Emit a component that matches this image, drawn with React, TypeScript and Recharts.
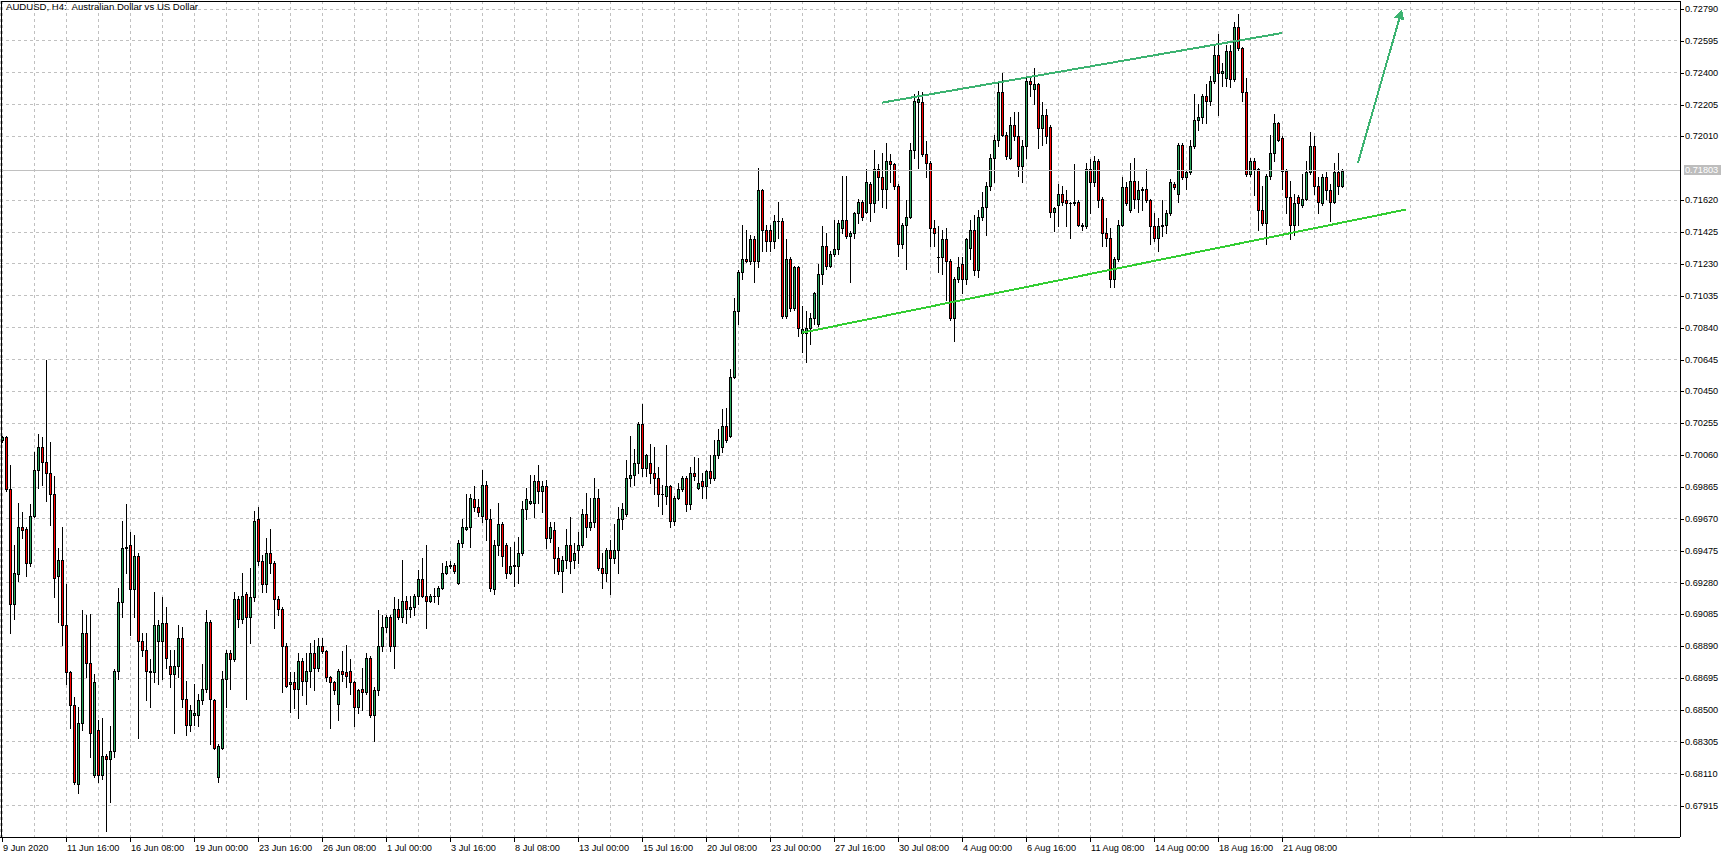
import React from 'react';
import { ComposedChart, Bar, XAxis, YAxis, CartesianGrid, ReferenceLine } from 'recharts';

const W = 1733;
const H = 858;
const PLOT_RIGHT = 1680;
const PLOT_BOTTOM = 837;
const SLOTS = 420; // 4px per bar, empty space right of the last bar

const FONT = '"Liberation Sans", Arial, sans-serif';
const BULL = '#26a65b';
const BEAR = '#ff0000';
const GRID = '#c0c0c0';

// AUDUSD H4 bars from 9 Jun 2020 00:00, one row = 16 bars (one time label step)
const openPrices = [
  0.7015, 0.7017, 0.6985, 0.6915, 0.6933, 0.6962, 0.6961, 0.6940, 0.6969, 0.6997, 0.7011, 0.7002, 0.6995, 0.6982, 0.6932, 0.6942,
  0.6902, 0.6873, 0.6853, 0.6805, 0.6842, 0.6897, 0.6879, 0.6810, 0.6838, 0.6810, 0.6822, 0.6820, 0.6825, 0.6874, 0.6916, 0.6949,
  0.6951, 0.6924, 0.6944, 0.6892, 0.6887, 0.6874, 0.6873, 0.6892, 0.6892, 0.6903, 0.6877, 0.6872, 0.6877, 0.6894, 0.6857, 0.6841,
  0.6847, 0.6847, 0.6856, 0.6863, 0.6904, 0.6856, 0.6809, 0.6827, 0.6869, 0.6885, 0.6881, 0.6918, 0.6906, 0.6921, 0.6907, 0.6919,
  0.6967, 0.6941, 0.6927, 0.6946, 0.6940, 0.6918, 0.6912, 0.6889, 0.6866, 0.6867, 0.6863, 0.6880, 0.6868, 0.6874, 0.6885, 0.6876,
  0.6889, 0.6886, 0.6870, 0.6867, 0.6854, 0.6874, 0.6873, 0.6874, 0.6867, 0.6852, 0.6863, 0.6861, 0.6882, 0.6847, 0.6862, 0.6889,
  0.6901, 0.6907, 0.6889, 0.6912, 0.6907, 0.6917, 0.6912, 0.6913, 0.6920, 0.6930, 0.6920, 0.6917, 0.6920, 0.6920, 0.6925, 0.6934,
  0.6938, 0.6939, 0.6928, 0.6952, 0.6961, 0.6962, 0.6979, 0.6974, 0.6969, 0.6988, 0.6967, 0.6924, 0.6951, 0.6964, 0.6951, 0.6934,
  0.6938, 0.6938, 0.6946, 0.6973, 0.6977, 0.6977, 0.6990, 0.6984, 0.6987, 0.6955, 0.6960, 0.6943, 0.6935, 0.6942, 0.6951, 0.6942,
  0.6948, 0.6951, 0.6970, 0.6962, 0.6965, 0.6980, 0.6937, 0.6934, 0.6948, 0.6943, 0.6948, 0.6967, 0.6970, 0.6992, 0.6994, 0.7001,
  0.7025, 0.6998, 0.7001, 0.6995, 0.6992, 0.6982, 0.6981, 0.6987, 0.6966, 0.6980, 0.6985, 0.6992, 0.6976, 0.6995, 0.6986, 0.6990,
  0.6987, 0.6996, 0.6992, 0.7006, 0.7011, 0.7024, 0.7018, 0.7054, 0.7094, 0.7118, 0.7126, 0.7125, 0.7138, 0.7125, 0.7168, 0.7144,
  0.7144, 0.7137, 0.7149, 0.7149, 0.7091, 0.7126, 0.7096, 0.7121, 0.7081, 0.7081, 0.7084, 0.7090, 0.7086, 0.7117, 0.7134, 0.7122,
  0.7129, 0.7132, 0.7145, 0.7150, 0.7140, 0.7142, 0.7154, 0.7161, 0.7155, 0.7172, 0.7160, 0.7181, 0.7176, 0.7169, 0.7186, 0.7184,
  0.7171, 0.7135, 0.7147, 0.7152, 0.7193, 0.7222, 0.7222, 0.7190, 0.7185, 0.7145, 0.7127, 0.7127, 0.7138, 0.7125, 0.7090, 0.7114,
  0.7123, 0.7114, 0.7133, 0.7144, 0.7119, 0.7152, 0.7158, 0.7171, 0.7188, 0.7199, 0.7228, 0.7202, 0.7188, 0.7208, 0.7201, 0.7183,
  0.7195, 0.7235, 0.7230, 0.7233, 0.7206, 0.7214, 0.7207, 0.7155, 0.7159, 0.7166, 0.7162, 0.7160, 0.7160, 0.7161, 0.7147, 0.7146,
  0.7181, 0.7173, 0.7186, 0.7163, 0.7142, 0.7139, 0.7114, 0.7126, 0.7147, 0.7170, 0.7156, 0.7174, 0.7163, 0.7168, 0.7169, 0.7162,
  0.7146, 0.7139, 0.7146, 0.7147, 0.7154, 0.7172, 0.7166, 0.7196, 0.7176, 0.7179, 0.7195, 0.7211, 0.7213, 0.7226, 0.7223, 0.7235,
  0.7251, 0.7240, 0.7237, 0.7253, 0.7236, 0.7268, 0.7255, 0.7228, 0.7178, 0.7186, 0.7181, 0.7156, 0.7148, 0.7177, 0.7191, 0.7209,
  0.7200, 0.7180, 0.7164, 0.7147, 0.7164, 0.7159, 0.7163, 0.7179, 0.7195, 0.7171, 0.7160, 0.7176, 0.7168, 0.7161, 0.7179, 0.7171,
];

const highPrices = [
  0.7018, 0.7018, 0.7000, 0.6951, 0.6977, 0.6971, 0.6962, 0.6976, 0.7008, 0.7019, 0.7017, 0.7064, 0.7014, 0.6993, 0.6949, 0.6962,
  0.6927, 0.6874, 0.6858, 0.6852, 0.6911, 0.6908, 0.6909, 0.6872, 0.6844, 0.6845, 0.6823, 0.6840, 0.6875, 0.6925, 0.6966, 0.6976,
  0.6959, 0.6957, 0.6946, 0.6897, 0.6897, 0.6881, 0.6922, 0.6905, 0.6919, 0.6913, 0.6887, 0.6887, 0.6902, 0.6901, 0.6868, 0.6853,
  0.6866, 0.6860, 0.6878, 0.6911, 0.6905, 0.6857, 0.6829, 0.6874, 0.6887, 0.6887, 0.6922, 0.6920, 0.6934, 0.6922, 0.6937, 0.6972,
  0.6974, 0.6945, 0.6955, 0.6961, 0.6941, 0.6920, 0.6913, 0.6891, 0.6873, 0.6873, 0.6885, 0.6882, 0.6885, 0.6891, 0.6893, 0.6894,
  0.6894, 0.6887, 0.6871, 0.6868, 0.6875, 0.6886, 0.6890, 0.6881, 0.6868, 0.6863, 0.6876, 0.6885, 0.6883, 0.6864, 0.6911, 0.6908,
  0.6908, 0.6908, 0.6919, 0.6918, 0.6942, 0.6920, 0.6920, 0.6921, 0.6936, 0.6943, 0.6951, 0.6921, 0.6925, 0.6926, 0.6940, 0.6941,
  0.6941, 0.6940, 0.6954, 0.6967, 0.6982, 0.6982, 0.6987, 0.6979, 0.6997, 0.6990, 0.6973, 0.6954, 0.6977, 0.6965, 0.6952, 0.6950,
  0.6953, 0.6956, 0.6978, 0.6986, 0.6994, 0.6994, 0.7000, 0.6990, 0.6991, 0.6965, 0.6965, 0.6950, 0.6944, 0.6961, 0.6968, 0.6952,
  0.6959, 0.6973, 0.6983, 0.6980, 0.6992, 0.6985, 0.6946, 0.6949, 0.6954, 0.6964, 0.6974, 0.6977, 0.7003, 0.7018, 0.7010, 0.7026,
  0.7037, 0.7007, 0.7013, 0.7011, 0.6999, 0.6988, 0.7012, 0.6988, 0.6981, 0.6989, 0.6993, 0.6993, 0.6999, 0.7005, 0.7004, 0.6995,
  0.6997, 0.7006, 0.7015, 0.7022, 0.7034, 0.7035, 0.7059, 0.7102, 0.7119, 0.7147, 0.7144, 0.7141, 0.7140, 0.7182, 0.7169, 0.7147,
  0.7147, 0.7153, 0.7161, 0.7151, 0.7138, 0.7127, 0.7122, 0.7122, 0.7097, 0.7094, 0.7093, 0.7106, 0.7123, 0.7146, 0.7142, 0.7131,
  0.7150, 0.7150, 0.7177, 0.7177, 0.7143, 0.7155, 0.7163, 0.7162, 0.7181, 0.7173, 0.7193, 0.7184, 0.7191, 0.7197, 0.7190, 0.7185,
  0.7172, 0.7148, 0.7162, 0.7197, 0.7227, 0.7229, 0.7228, 0.7198, 0.7186, 0.7150, 0.7146, 0.7144, 0.7145, 0.7126, 0.7115, 0.7127,
  0.7127, 0.7139, 0.7150, 0.7153, 0.7156, 0.7167, 0.7173, 0.7190, 0.7202, 0.7234, 0.7240, 0.7204, 0.7213, 0.7216, 0.7216, 0.7199,
  0.7238, 0.7238, 0.7243, 0.7234, 0.7222, 0.7218, 0.7208, 0.7158, 0.7172, 0.7171, 0.7168, 0.7161, 0.7184, 0.7162, 0.7148, 0.7185,
  0.7187, 0.7189, 0.7187, 0.7164, 0.7151, 0.7145, 0.7127, 0.7150, 0.7176, 0.7173, 0.7185, 0.7188, 0.7174, 0.7170, 0.7181, 0.7163,
  0.7154, 0.7151, 0.7162, 0.7156, 0.7175, 0.7173, 0.7197, 0.7197, 0.7180, 0.7199, 0.7227, 0.7221, 0.7227, 0.7233, 0.7238, 0.7257,
  0.7264, 0.7246, 0.7257, 0.7257, 0.7271, 0.7276, 0.7256, 0.7237, 0.7188, 0.7188, 0.7182, 0.7171, 0.7178, 0.7202, 0.7215, 0.7210,
  0.7201, 0.7181, 0.7174, 0.7166, 0.7165, 0.7178, 0.7186, 0.7204, 0.7201, 0.7176, 0.7178, 0.7179, 0.7172, 0.7185, 0.7191, 0.7181,
];

const lowPrices = [
  0.7014, 0.6984, 0.6897, 0.6906, 0.6929, 0.6955, 0.6932, 0.6938, 0.6968, 0.6986, 0.6988, 0.6978, 0.6963, 0.6919, 0.6904, 0.6890,
  0.6866, 0.6839, 0.6805, 0.6799, 0.6838, 0.6870, 0.6821, 0.6809, 0.6806, 0.6808, 0.6776, 0.6794, 0.6821, 0.6869, 0.6907, 0.6934,
  0.6896, 0.6907, 0.6833, 0.6883, 0.6856, 0.6852, 0.6867, 0.6866, 0.6869, 0.6876, 0.6864, 0.6836, 0.6870, 0.6852, 0.6835, 0.6837,
  0.6841, 0.6840, 0.6854, 0.6861, 0.6829, 0.6826, 0.6806, 0.6826, 0.6852, 0.6863, 0.6880, 0.6901, 0.6903, 0.6857, 0.6891, 0.6917,
  0.6939, 0.6922, 0.6922, 0.6934, 0.6900, 0.6908, 0.6861, 0.6864, 0.6849, 0.6851, 0.6845, 0.6859, 0.6854, 0.6864, 0.6862, 0.6874,
  0.6885, 0.6868, 0.6839, 0.6860, 0.6844, 0.6868, 0.6864, 0.6860, 0.6840, 0.6848, 0.6850, 0.6860, 0.6846, 0.6831, 0.6859, 0.6886,
  0.6898, 0.6886, 0.6876, 0.6906, 0.6904, 0.6903, 0.6907, 0.6908, 0.6915, 0.6919, 0.6900, 0.6916, 0.6916, 0.6915, 0.6924, 0.6933,
  0.6937, 0.6934, 0.6927, 0.6950, 0.6960, 0.6950, 0.6972, 0.6969, 0.6965, 0.6954, 0.6923, 0.6921, 0.6945, 0.6938, 0.6931, 0.6933,
  0.6926, 0.6928, 0.6945, 0.6967, 0.6976, 0.6968, 0.6977, 0.6971, 0.6949, 0.6953, 0.6934, 0.6933, 0.6922, 0.6937, 0.6934, 0.6937,
  0.6940, 0.6950, 0.6956, 0.6960, 0.6962, 0.6936, 0.6925, 0.6929, 0.6921, 0.6940, 0.6934, 0.6961, 0.6969, 0.6987, 0.6988, 0.6995,
  0.6993, 0.6993, 0.6989, 0.6982, 0.6975, 0.6970, 0.6976, 0.6962, 0.6963, 0.6979, 0.6984, 0.6972, 0.6973, 0.6991, 0.6985, 0.6980,
  0.6980, 0.6989, 0.6991, 0.7004, 0.7008, 0.7014, 0.7017, 0.7053, 0.7086, 0.7114, 0.7124, 0.7123, 0.7112, 0.7121, 0.7131, 0.7131,
  0.7131, 0.7133, 0.7139, 0.7090, 0.7090, 0.7094, 0.7095, 0.7079, 0.7069, 0.7063, 0.7074, 0.7086, 0.7085, 0.7111, 0.7120, 0.7121,
  0.7128, 0.7129, 0.7142, 0.7139, 0.7112, 0.7139, 0.7148, 0.7150, 0.7154, 0.7149, 0.7155, 0.7162, 0.7158, 0.7157, 0.7173, 0.7169,
  0.7128, 0.7133, 0.7120, 0.7151, 0.7188, 0.7182, 0.7189, 0.7176, 0.7134, 0.7134, 0.7118, 0.7117, 0.7101, 0.7089, 0.7076, 0.7112,
  0.7105, 0.7111, 0.7126, 0.7116, 0.7115, 0.7150, 0.7141, 0.7168, 0.7173, 0.7195, 0.7201, 0.7187, 0.7187, 0.7199, 0.7177, 0.7173,
  0.7188, 0.7226, 0.7221, 0.7194, 0.7196, 0.7197, 0.7152, 0.7143, 0.7146, 0.7159, 0.7146, 0.7139, 0.7159, 0.7146, 0.7144, 0.7145,
  0.7154, 0.7171, 0.7158, 0.7134, 0.7134, 0.7109, 0.7109, 0.7125, 0.7146, 0.7159, 0.7155, 0.7157, 0.7155, 0.7156, 0.7161, 0.7135,
  0.7137, 0.7131, 0.7140, 0.7142, 0.7153, 0.7169, 0.7161, 0.7175, 0.7169, 0.7178, 0.7194, 0.7205, 0.7209, 0.7209, 0.7220, 0.7234,
  0.7214, 0.7232, 0.7232, 0.7231, 0.7235, 0.7254, 0.7223, 0.7177, 0.7177, 0.7165, 0.7144, 0.7147, 0.7135, 0.7175, 0.7186, 0.7198,
  0.7169, 0.7154, 0.7138, 0.7141, 0.7147, 0.7158, 0.7162, 0.7178, 0.7166, 0.7154, 0.7159, 0.7163, 0.7149, 0.7160, 0.7166, 0.7170,
];

const closePrices = [
  0.7017, 0.6985, 0.6915, 0.6934, 0.6962, 0.6960, 0.6940, 0.6969, 0.6997, 0.7011, 0.7002, 0.6995, 0.6982, 0.6931, 0.6942, 0.6902,
  0.6873, 0.6853, 0.6806, 0.6842, 0.6897, 0.6879, 0.6836, 0.6867, 0.6810, 0.6822, 0.6820, 0.6825, 0.6874, 0.6916, 0.6949, 0.6950,
  0.6924, 0.6944, 0.6892, 0.6887, 0.6874, 0.6873, 0.6902, 0.6902, 0.6903, 0.6882, 0.6872, 0.6877, 0.6894, 0.6857, 0.6841, 0.6850,
  0.6848, 0.6856, 0.6863, 0.6904, 0.6857, 0.6827, 0.6828, 0.6869, 0.6885, 0.6881, 0.6918, 0.6906, 0.6920, 0.6907, 0.6919, 0.6966,
  0.6941, 0.6927, 0.6946, 0.6940, 0.6918, 0.6912, 0.6889, 0.6865, 0.6867, 0.6863, 0.6880, 0.6868, 0.6874, 0.6885, 0.6876, 0.6889,
  0.6886, 0.6870, 0.6867, 0.6862, 0.6874, 0.6872, 0.6871, 0.6867, 0.6852, 0.6862, 0.6861, 0.6882, 0.6847, 0.6862, 0.6889, 0.6901,
  0.6907, 0.6889, 0.6912, 0.6907, 0.6917, 0.6912, 0.6913, 0.6920, 0.6930, 0.6920, 0.6917, 0.6920, 0.6920, 0.6925, 0.6934, 0.6938,
  0.6939, 0.6935, 0.6952, 0.6962, 0.6962, 0.6980, 0.6974, 0.6971, 0.6988, 0.6967, 0.6925, 0.6951, 0.6964, 0.6944, 0.6934, 0.6938,
  0.6939, 0.6946, 0.6973, 0.6979, 0.6978, 0.6990, 0.6984, 0.6987, 0.6955, 0.6962, 0.6943, 0.6935, 0.6942, 0.6951, 0.6941, 0.6946,
  0.6951, 0.6970, 0.6962, 0.6965, 0.6980, 0.6937, 0.6934, 0.6948, 0.6943, 0.6948, 0.6967, 0.6973, 0.6992, 0.6994, 0.7001, 0.7025,
  0.6998, 0.7006, 0.6995, 0.6992, 0.6982, 0.6982, 0.6987, 0.6966, 0.6980, 0.6985, 0.6992, 0.6976, 0.6995, 0.6993, 0.6989, 0.6987,
  0.6996, 0.6992, 0.7006, 0.7015, 0.7024, 0.7015, 0.7054, 0.7094, 0.7118, 0.7126, 0.7125, 0.7138, 0.7125, 0.7168, 0.7144, 0.7137,
  0.7137, 0.7149, 0.7149, 0.7091, 0.7126, 0.7096, 0.7121, 0.7084, 0.7083, 0.7084, 0.7090, 0.7105, 0.7117, 0.7134, 0.7122, 0.7129,
  0.7132, 0.7148, 0.7150, 0.7140, 0.7142, 0.7154, 0.7161, 0.7152, 0.7173, 0.7160, 0.7181, 0.7176, 0.7169, 0.7186, 0.7184, 0.7171,
  0.7135, 0.7147, 0.7152, 0.7193, 0.7223, 0.7224, 0.7190, 0.7185, 0.7145, 0.7142, 0.7127, 0.7138, 0.7125, 0.7090, 0.7114, 0.7121,
  0.7114, 0.7138, 0.7144, 0.7119, 0.7152, 0.7158, 0.7171, 0.7188, 0.7199, 0.7228, 0.7202, 0.7189, 0.7208, 0.7201, 0.7183, 0.7195,
  0.7235, 0.7233, 0.7233, 0.7206, 0.7214, 0.7201, 0.7155, 0.7157, 0.7166, 0.7161, 0.7160, 0.7160, 0.7161, 0.7147, 0.7146, 0.7181,
  0.7173, 0.7186, 0.7162, 0.7142, 0.7139, 0.7114, 0.7126, 0.7147, 0.7170, 0.7160, 0.7174, 0.7163, 0.7168, 0.7169, 0.7162, 0.7146,
  0.7139, 0.7146, 0.7147, 0.7154, 0.7173, 0.7170, 0.7196, 0.7176, 0.7179, 0.7195, 0.7211, 0.7213, 0.7226, 0.7223, 0.7235, 0.7251,
  0.7240, 0.7241, 0.7253, 0.7236, 0.7268, 0.7255, 0.7228, 0.7178, 0.7186, 0.7181, 0.7156, 0.7148, 0.7177, 0.7191, 0.7209, 0.7199,
  0.7180, 0.7164, 0.7147, 0.7160, 0.7160, 0.7163, 0.7179, 0.7195, 0.7171, 0.7161, 0.7176, 0.7168, 0.7161, 0.7179, 0.7171, 0.7180,
];

// one label every 16 bars
const timeLabels = [
  '9 Jun 2020', '11 Jun 16:00', '16 Jun 08:00', '19 Jun 00:00', '23 Jun 16:00', '26 Jun 08:00', '1 Jul 00:00',
  '3 Jul 16:00', '8 Jul 08:00', '13 Jul 00:00', '15 Jul 16:00', '20 Jul 08:00', '23 Jul 00:00', '27 Jul 16:00',
  '30 Jul 08:00', '4 Aug 00:00', '6 Aug 16:00', '11 Aug 08:00', '14 Aug 00:00', '18 Aug 16:00', '21 Aug 08:00',
];

// 0.71815 is hidden by the last price badge
const priceTicks = [
  0.7279, 0.72595, 0.724, 0.72205, 0.7201, 0.7162, 0.71425, 0.7123, 0.71035, 0.7084, 0.70645, 0.7045, 0.70255,
  0.7006, 0.69865, 0.6967, 0.69475, 0.6928, 0.69085, 0.6889, 0.68695, 0.685, 0.68305, 0.6811, 0.67915,
];

const lastPrice = 0.71803;

const upperChannel = [{ x: 220, y: 0.72217 }, { x: 320, y: 0.72643 }];
const lowerChannel = [{ x: 200, y: 0.70809 }, { x: 351, y: 0.71563 }];
const targetArrow = [{ x: 339, y: 0.71849 }, { x: 350, y: 0.72788 }];

const Y_DOMAIN: [number, number] = [0.677234, 0.72839];

const rows = Array.from({ length: SLOTS }, (_, i) => {
  if (i >= closePrices.length) return { idx: i };
  const o = openPrices[i];
  const c = closePrices[i];
  return {
    idx: i,
    open: o,
    close: c,
    high: Math.max(highPrices[i], o, c),
    low: Math.min(lowPrices[i], o, c),
  };
});

const gridTicks = Array.from({ length: SLOTS / 8 }, (_, k) => k * 8);

const Candle = (props: any) => {
  const { x, y, width, height, payload } = props;
  if (!payload || payload.high == null) return null;
  const { open, close, high, low } = payload;
  const span = high - low;
  const k = span > 0 ? height / span : 0;
  const cx = Math.floor(x + width / 2);
  const yOf = (v: number) => y + (high - v) * k;
  const top = Math.round(yOf(Math.max(open, close)));
  const bot = Math.round(yOf(Math.min(open, close)));
  const yHi = Math.round(y);
  const yLo = Math.round(y + height);
  const up = close >= open;
  return (
    <g>
      <rect x={cx} y={yHi} width={1} height={Math.max(1, yLo - yHi + 1)} fill="#000" />
      <rect x={cx - 1} y={top} width={3} height={Math.max(1, bot - top + 1)} fill="#000" />
      {bot - top >= 2 && (
        <rect x={cx} y={top + 1} width={1} height={bot - top - 1} fill={up ? BULL : BEAR} />
      )}
    </g>
  );
};

const TimeTick = (p: any) => {
  const i = Number(p.payload?.value);
  if (i % 16 !== 0) return null;
  const label = timeLabels[i / 16];
  if (!label) return null;
  const x = Math.round(p.x);
  return (
    <g>
      <line x1={x} x2={x} y1={PLOT_BOTTOM} y2={PLOT_BOTTOM + 5} stroke="#000" />
      <text x={x + 1} y={850.5} fontSize={9.2} fontFamily={FONT} fill="#000">
        {label}
      </text>
    </g>
  );
};

const PriceTick = (p: any) => {
  const y = Math.round(p.y);
  return (
    <g>
      <line x1={PLOT_RIGHT} x2={PLOT_RIGHT + 4} y1={y} y2={y} stroke="#000" />
      <text x={PLOT_RIGHT + 5} y={y} dy="0.36em" fontSize={9.2} fontFamily={FONT} fill="#000">
        {Number(p.payload.value).toFixed(5)}
      </text>
    </g>
  );
};

const PriceBadge = (lp: any) => {
  const vb = lp?.viewBox ?? lp ?? {};
  const y = Math.round(vb.y ?? 0);
  return (
    <g>
      <rect x={PLOT_RIGHT + 4} y={y - 5} width={37} height={10} fill="#bdbdbd" />
      <text x={PLOT_RIGHT + 5} y={y} dy="0.36em" fontSize={9.2} fontFamily={FONT} fill="#fff">
        {lastPrice.toFixed(5)}
      </text>
    </g>
  );
};

const ArrowLine = (p: any) => {
  const { x1, y1, x2, y2 } = p;
  const ang = Math.atan2(y2 - y1, x2 - x1);
  const len = 10;
  const half = 5;
  const bx = x2 - len * Math.cos(ang);
  const by = y2 - len * Math.sin(ang);
  const nx = -Math.sin(ang);
  const ny = Math.cos(ang);
  const pts = `${x2},${y2} ${bx + nx * half},${by + ny * half} ${bx - nx * half},${by - ny * half}`;
  return (
    <g>
      <line x1={x1} y1={y1} x2={bx} y2={by} stroke="#3cb371" strokeWidth={2} />
      <polygon points={pts} fill="#3cb371" />
    </g>
  );
};

export default function App() {
  return (
    <div style={{ position: 'absolute', left: 0, top: 0, width: W, height: H, background: '#fff' }}>
      <ComposedChart
        width={W}
        height={H}
        data={rows}
        margin={{ top: 1, right: 0, bottom: 0, left: 0 }}
        style={{ shapeRendering: 'crispEdges' }}
      >
        <CartesianGrid stroke={GRID} strokeDasharray="3 3" />
        <XAxis
          dataKey="idx"
          type="category"
          height={21}
          ticks={gridTicks}
          interval={0}
          axisLine={{ stroke: '#000' }}
          tickLine={false}
          tick={<TimeTick />}
        />
        <YAxis
          orientation="right"
          width={53}
          type="number"
          domain={Y_DOMAIN}
          allowDataOverflow
          ticks={priceTicks}
          interval={0}
          axisLine={{ stroke: '#000' }}
          tickLine={false}
          tick={<PriceTick />}
        />
        <ReferenceLine y={lastPrice} stroke="#c0c0c0" label={(lp: any) => <PriceBadge {...lp} />} />
        <Bar
          dataKey={(d: any) => (d.high == null ? null : [d.low, d.high])}
          barSize={3}
          shape={<Candle />}
          isAnimationActive={false}
        />
        <ReferenceLine segment={upperChannel} stroke="#3cb371" strokeWidth={2} />
        <ReferenceLine segment={lowerChannel} stroke="#32cd32" strokeWidth={2} />
        <ReferenceLine segment={targetArrow} shape={ArrowLine} />
      </ComposedChart>
      <div
        style={{
          position: 'absolute',
          left: 1,
          top: 1,
          width: PLOT_RIGHT - 1,
          height: PLOT_BOTTOM - 1,
          borderTop: '1px solid #000',
          borderLeft: '1px solid #000',
          boxSizing: 'border-box',
          pointerEvents: 'none',
        }}
      />
      <div
        style={{
          position: 'absolute',
          left: 6,
          top: 2,
          fontFamily: FONT,
          fontSize: 9.6,
          lineHeight: 1,
          whiteSpace: 'nowrap',
          color: '#000',
        }}
      >
        AUDUSD, H4:&nbsp; Australian Dollar vs US Dollar
      </div>
    </div>
  );
}
